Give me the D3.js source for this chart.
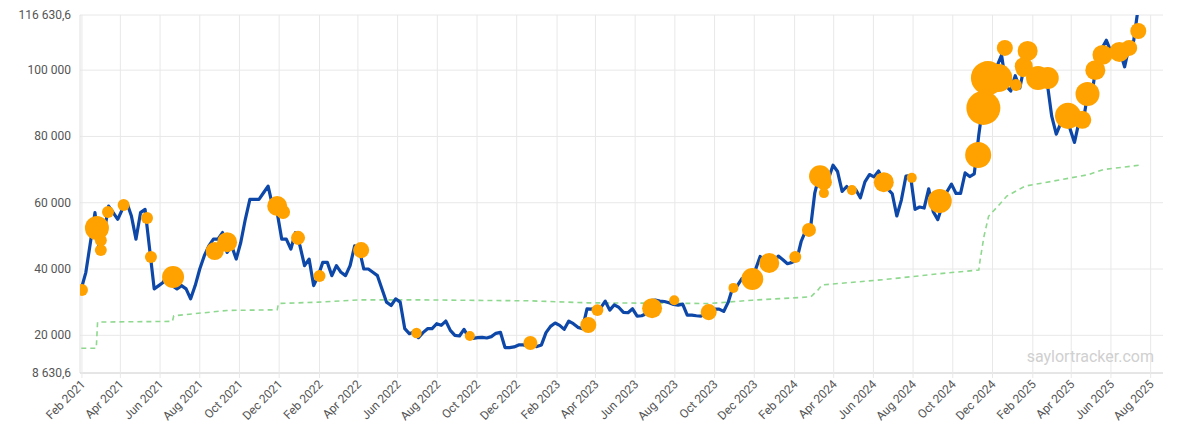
<!DOCTYPE html>
<html><head><meta charset="utf-8">
<script src="https://cdn.jsdelivr.net/npm/d3@7"></script>
<style>body{margin:0;background:#fff;font-family:Roboto,"Noto Sans",Arial,sans-serif}</style>
</head><body><svg id="c" width="1200" height="446"></svg>
<script>
// ---- data ----
const priceStart = "2021-01-31"; // weekly closes (thousand USD)
const priceWeekly = [
34,39,48,57,45,51,59,57,55,58,60,56,49,57,58,46,34,35,36,39,35,34,35,34,31,35,40,44,47,49,49,51,45,47,43,48,55,61,61,61,63,65,59,57,49,49,46,51,
47,41,43,35,38,42,42,38,41,39,38,41,47,46,40,40,39,38,34,30,29,31,30,22,20.5,21,19.3,20.8,22,22,23.5,23,24.3,21.5,20,19.8,21.8,19.5,19.1,19.3,19.4,19.2,19.6,20.6,20.9,16.3,16.3,16.5,17.1,17.1,16.8,16.8,
16.6,17.1,20.8,22.7,23.7,23,21.8,24.3,23.5,22.4,22,28,27.9,28.3,28.3,30.3,27.6,29.2,28.4,26.9,26.8,28,25.8,25.9,26.5,30.5,30.6,30.3,30.2,29.8,29.3,29.1,29.4,26.1,26.1,25.9,25.8,26.5,26.3,27.9,27.9,27.2,30,34.5,35,37.1,37.4,37.4,39.9,43.8,41.4,43.7,42.3,
43.9,42.8,41.6,42,42.6,48.3,51.6,51.7,63,68.4,68.4,67.2,71.3,69.4,63.4,64.9,63.1,63.9,61.5,66.3,68.5,67.8,69.6,66.6,64.2,62.7,56,60.8,68,68.2,58,58.7,58.4,64.2,57.3,54.9,59.2,63.3,65.6,62.8,62.8,69,67.9,68.7,80.5,90.6,97.7,97.3,101.2,104.5,95.2,93.7,
98.3,94.6,101.3,102.6,97.7,96.5,96.1,96.3,86.1,80.7,84,86,82.4,78.2,84.5,85.2,93.8,94.3,104,106.5,109,105.5,105.7,105.6,101,107.2,108.9,119
];
const costDates = ["2021-01-31","2021-02-23","2021-02-25","2021-06-20","2021-06-22","2021-09-12","2021-11-28","2021-11-30","2022-01-31","2022-04-06","2022-06-30","2022-12-22","2023-03-20","2023-06-27","2023-09-24","2023-11-28","2024-02-26","2024-03-08","2024-03-14","2024-06-17","2024-09-11","2024-11-10","2024-11-12","2024-11-18","2024-11-25","2024-12-10","2024-12-23","2025-01-20","2025-03-01","2025-04-28","2025-05-20","2025-07-14"];
const costValues = [16.1,16.1,24.0,24.2,25.9,27.5,27.7,29.6,30.0,30.7,30.7,30.4,29.8,29.7,29.6,30.6,31.6,33.7,35.2,36.8,38.6,39.7,42.7,49.9,55.9,59.1,62.0,65.0,66.4,68.5,70.0,71.3];
const buyDates = ["2021-02-01","2021-02-24","2021-03-02","2021-03-02","2021-03-13","2021-04-06","2021-05-12","2021-05-18","2021-06-21","2021-08-24","2021-09-12","2021-11-28","2021-12-07","2021-12-30","2022-02-01","2022-04-06","2022-06-30","2022-09-20","2022-12-22","2023-03-21","2023-04-04","2023-06-27","2023-07-31","2023-09-22","2023-10-30","2023-11-28","2023-12-24","2024-02-02","2024-02-23","2024-03-11","2024-03-17","2024-03-17","2024-04-29","2024-06-17","2024-07-30","2024-09-11","2024-11-09","2024-11-17","2024-11-24","2024-12-10","2024-12-20","2025-01-06","2025-01-17","2025-01-18","2025-01-24","2025-02-09","2025-02-24","2025-03-27","2025-04-18","2025-04-26","2025-05-08","2025-05-19","2025-06-14","2025-06-29","2025-07-13"];
const buyPrices = [33.7,52.4,48.7,45.7,57.2,59.3,55.4,43.6,37.6,45.4,48.1,59,57.2,49.4,37.9,45.7,20.7,19.8,17.7,23.1,27.6,28.2,30.6,27,34.3,37,41.8,43.6,51.8,68,66.2,62.9,63.8,66.2,67.5,60.5,74.4,88.6,97.6,97.6,106.7,95.5,100,101.2,105.8,97.6,97.6,86.2,85,92.8,100,104.6,105.5,106.7,111.8];
const buyBtc = [1300,21000,1300,1300,1300,1300,1300,1300,16000,8200,11800,11800,3000,3000,1300,5300,500,330,3000,5300,1300,11800,330,5300,330,16000,11800,1300,3000,16000,5300,330,330,11800,330,21000,26700,55500,55500,32800,5300,1300,3000,8200,11800,21000,16000,26700,8200,21000,11800,11800,11800,5300,5300];
const yTicks = [8630.6,20000,40000,60000,80000,100000,116630.6];

// ---- layout ----
const L=80,R=1163,T=15,B=373;
const svg=d3.select("#c");
const parse=d3.timeParse("%Y-%m-%d");
const x=d3.scaleTime().domain([parse("2021-01-29"),parse("2025-08-20")]).range([L,R]);
const y=d3.scaleLinear().domain([8630.6,116630.6]).range([B,T]);
const r=d3.scaleSqrt().domain([0,55500]).range([4,17]);
const fmt=v=>{const s=d3.format(",.1f")(v).replace(/,/g," ").replace(".",",");return s.endsWith(",0")?s.slice(0,-2):s;};

const xTicks=d3.timeMonth.range(parse("2021-02-01"),parse("2025-08-02")).filter((d,i)=>i%2===0);
const g=svg.append("g");
g.selectAll(".hg").data(yTicks).join("line").attr("x1",L).attr("x2",R).attr("y1",d=>y(d)).attr("y2",d=>y(d))
 .attr("stroke",d=>d===8630.6?"#ccc":"#e8e8e8");
g.selectAll(".vg").data(xTicks).join("line").attr("x1",d=>x(d)).attr("x2",d=>x(d)).attr("y1",T).attr("y2",B+5).attr("stroke","#e8e8e8");
g.append("line").attr("x1",L).attr("x2",L).attr("y1",T).attr("y2",B).attr("stroke","#e0e0e0");
g.selectAll(".yl").data(yTicks).join("text").attr("x",L-9).attr("y",d=>y(d)+4).attr("text-anchor","end")
 .attr("font-size",12).attr("fill","#555").text(fmt);
const mf=d3.timeFormat("%b %Y");
g.selectAll(".xl").data(xTicks).join("text").attr("transform",d=>`translate(${x(d)+4},${B+12}) rotate(-45)`)
 .attr("text-anchor","end").attr("font-size",12).attr("fill","#555").text(mf);
svg.append("text").attr("x",1154).attr("y",362).attr("text-anchor","end").attr("font-size",16).attr("fill","#d0d0d0").text("saylortracker.com");

svg.append("clipPath").attr("id","cp").append("rect").attr("x",L).attr("y",T).attr("width",R-L).attr("height",B-T);
const start=parse(priceStart);
const price=priceWeekly.map((v,i)=>({d:d3.timeDay.offset(start,i*7),v:v*1000}));
const cost=costDates.map((d,i)=>({d:parse(d),v:costValues[i]*1000}));
const pg=svg.append("g").attr("clip-path","url(#cp)");
pg.append("path").datum(cost).attr("fill","none").attr("stroke","#8fd88f").attr("stroke-width",1.6).attr("stroke-dasharray","5,4")
 .attr("d",d3.line().x(d=>x(d.d)).y(d=>y(d.v)));
pg.append("path").datum(price).attr("fill","none").attr("stroke","#0d47a8").attr("stroke-width",3.2).attr("stroke-linejoin","round")
 .attr("d",d3.line().x(d=>x(d.d)).y(d=>y(d.v)));
const buys=buyDates.map((d,i)=>({d:parse(d),v:buyPrices[i]*1000,b:buyBtc[i]}));
pg.selectAll("circle").data(buys).join("circle").attr("cx",d=>x(d.d)).attr("cy",d=>y(d.v)).attr("r",d=>r(d.b)).attr("fill","#ffa200");
</script></body></html>
